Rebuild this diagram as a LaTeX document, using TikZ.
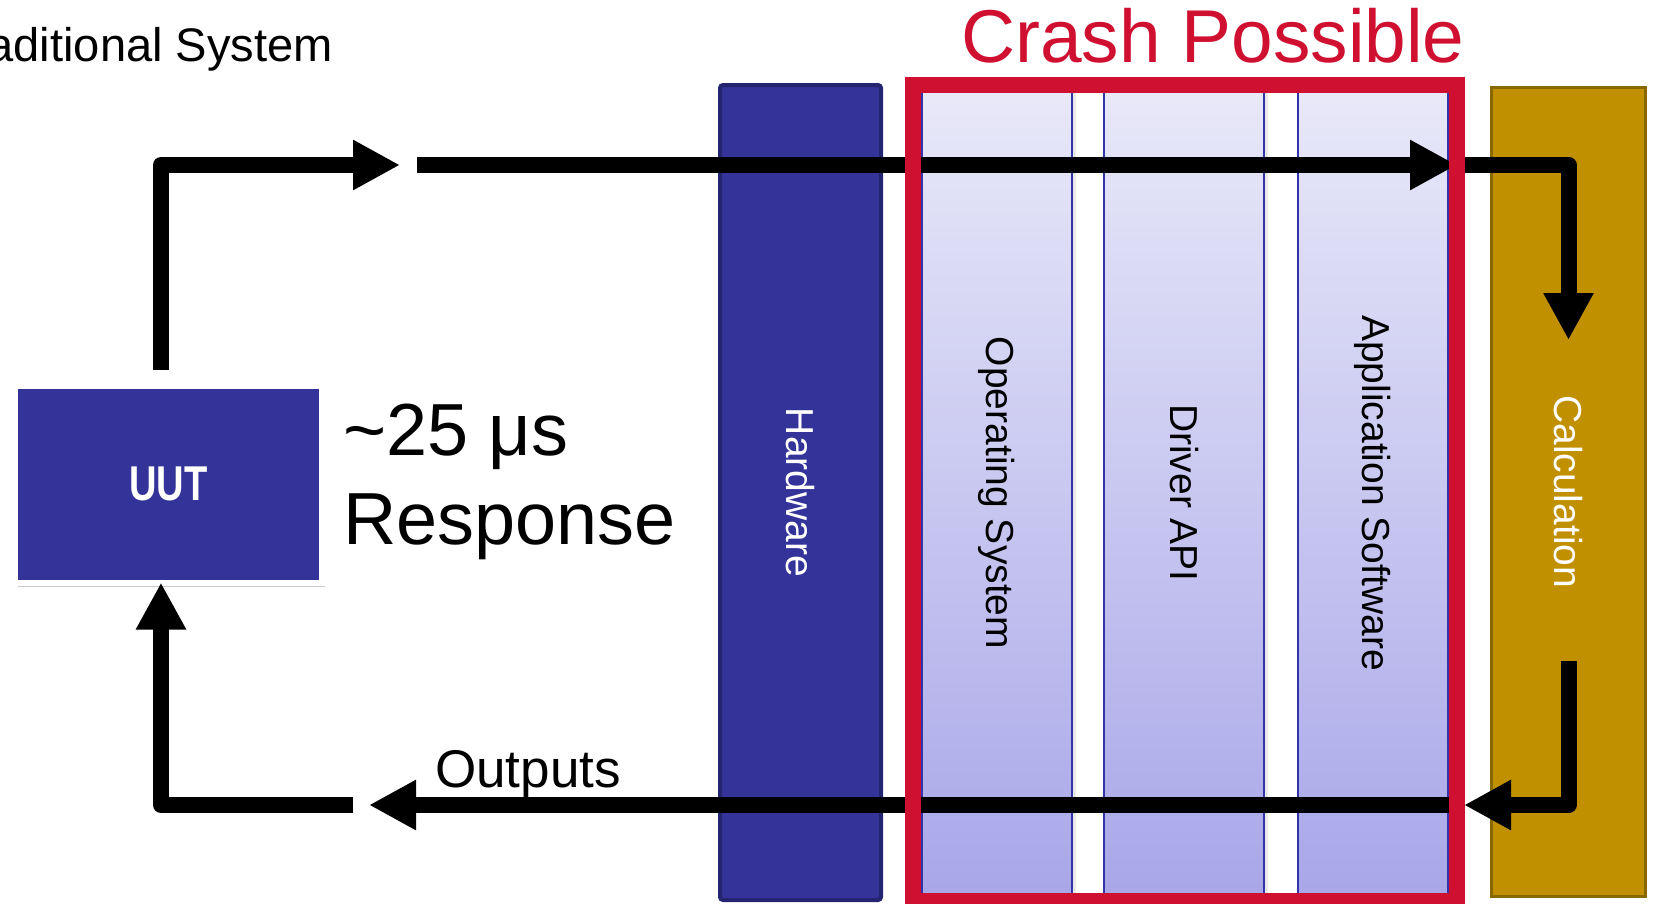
\documentclass[tikz,border=0pt]{standalone}
\usepackage{fontspec}
\setmainfont{Liberation Sans}
\usetikzlibrary{arrows.meta,positioning,shadows}
\definecolor{hwblue}  {RGB}{51,51,153}
\definecolor{hwedge}  {RGB}{36,36,112}
\definecolor{crashred}{RGB}{208,16,48}
\definecolor{calcgold}{RGB}{192,144,0}
\definecolor{swtop}   {RGB}{233,233,249}
\definecolor{swbot}   {RGB}{168,166,232}
\definecolor{swedge}  {RGB}{51,51,170}
\pgfdeclarelayer{front}
\pgfsetlayers{main,front}

\begin{document}
\begin{tikzpicture}[
    x=0.1mm, y=-0.1mm,
    every node/.style={inner sep=0pt, outer sep=0pt},
    uutbox/.style={rectangle, fill=hwblue, draw=white, line width=0.6mm,
                   minimum width=30.7mm, minimum height=19.65mm,
                   drop shadow={shadow xshift=0.3mm, shadow yshift=-0.4mm,
                                opacity=0.35, fill=black!60}},
    hwbar/.style={rectangle, rounded corners=0.3mm, fill=hwblue, draw=hwedge,
                  line width=0.4mm, minimum width=16.1mm, minimum height=81.5mm},
    swpanel/.style={rectangle, top color=swtop, bottom color=swbot, draw=swedge,
                    line width=0.2mm, minimum height=81.6mm,
                    drop shadow={shadow xshift=0.35mm, shadow yshift=0mm, opacity=0.18}},
    calcbar/.style={rectangle, fill=calcgold, draw=white, line width=0.7mm,
                    minimum width=16.35mm, minimum height=81.85mm,
                    drop shadow={shadow xshift=-0.25mm, shadow yshift=-0.3mm,
                                 opacity=0.3, fill=black!60}},
    crashbox/.style={rectangle, draw=crashred, line width=1.6mm,
                     minimum width=54.4mm, minimum height=81.6mm},
    vlabel/.style={rotate=-90, font=\fontsize{11.1}{13}\selectfont},
    arr/.style={-{Triangle[length=4.7mm, width=4.7mm]}, line width=1.6mm, line join=round}
  ]
  \useasboundingbox (0,0) rectangle (1656,903);
  \clip (0,0) rectangle (1656,903);

  % Title and red crash zone label
  \node[font=\fontsize{13.4}{16}\selectfont, anchor=base east] (title) at (333,62)
    {Traditional System};
  \node[font=\fontsize{21.3}{25}\selectfont, text=crashred, anchor=base] (crashlbl)
    at (1213,63) {Crash Possible};

  % Unit under test
  \node[uutbox] (uut) at (168.5,484.25) {};
  \node[font=\fontsize{13.9}{16}\selectfont\bfseries, text=white] at (uut.center)
    {\scalebox{0.78}[1]{UUT}};
  \node[font=\fontsize{21}{25}\selectfont, anchor=base west] (resp1) at (343,455)
    {\textasciitilde25 μs};
  \node[font=\fontsize{21}{25}\selectfont, anchor=base west] (resp2) at (343,544)
    {Response};

  % Hardware bar
  \node[hwbar] (hw) at (800.5,492.5) {};
  \node[vlabel, text=white] at (hw.center) {Hardware};

  % Software stack inside the crash zone
  \node[swpanel, minimum width=15.0mm] (os)  at (997,493)  {};
  \node[swpanel, minimum width=16.0mm] (drv) at (1184,493) {};
  \node[swpanel, minimum width=15.0mm] (app) at (1373,493) {};
  \node[vlabel] at (os.center)  {Operating System};
  \node[vlabel] at (drv.center) {Driver API};
  \node[vlabel] at (app.center) {Application Software};

  % Calculation bar
  \node[calcbar] (calc) at (1568.25,491.75) {};
  \draw[calcgold!72!black, line width=0.3mm]
    ([shift={(0.5mm,-0.5mm)}]calc.north west) rectangle ([shift={(-0.5mm,0.5mm)}]calc.south east);
  \node[vlabel, text=white] at (calc.center) {Calculation};

  % Red frame sits above the signal lines
  \begin{pgfonlayer}{front}
    \node[crashbox] (crash) at (1185,493) {};
  \end{pgfonlayer}

  % Loop end points
  \coordinate (in1)     at (400,165);
  \coordinate (in2)     at (417,165);
  \coordinate (out1)    at (369,805);
  \coordinate (out2)    at (353,805);
  \coordinate (calcin)  at (1568.5,340);
  \coordinate (calcout) at (1568.5,661);

  % Inputs: UUT -> hardware -> software -> calculation
  \draw[arr] ([xshift=-0.75mm, yshift=1.6mm]uut.north) |- (in1);
  \draw[arr] (in2) -- (in2 -| crash.east);
  \draw[arr] (crash.east |- in2) -| (calcin);

  % Outputs: calculation -> back to UUT
  \draw[arr] (calcout) |- ([xshift=0.7mm]crash.east |- out1);
  \draw[arr] (crash.east |- out1) -- (out1);
  \draw[arr] (out2) -| ([xshift=-0.75mm]uut.south);
  \node[font=\fontsize{15.1}{18}\selectfont, anchor=base west] (outlbl) at (435,787)
    {Outputs};

\end{tikzpicture}
\end{document}
